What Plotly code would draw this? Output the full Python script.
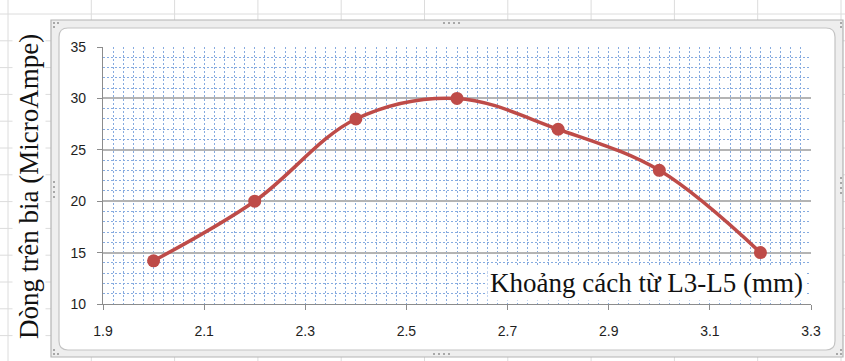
import plotly.graph_objects as go

# Measured current on the target vs. L3-L5 spacing
spacing_mm = [2.0, 2.2, 2.4, 2.6, 2.8, 3.0, 3.2]
current_uA = [14.2, 20.0, 28.0, 30.0, 27.0, 23.0, 15.0]

x_ticks = [1.9, 2.1, 2.3, 2.5, 2.7, 2.9, 3.1, 3.3]
y_ticks = [10, 15, 20, 25, 30, 35]

W, H = 845, 361
PL, PR, PT, PB = 103, 811, 47, 304  # plot area in pixels


def px(x):
    return (x - PL) / (PR - PL)


def py(y):
    return (PB - y) / (PB - PT)


fig = go.Figure()
fig.add_trace(go.Scatter(
    x=spacing_mm, y=current_uA,
    mode="lines+markers",
    line=dict(color="#BE4B48", width=3.5, shape="spline", smoothing=1.0),
    marker=dict(color="#BE4B48", size=13),
    showlegend=False, hoverinfo="x+y",
))

shapes = []
sheet_line = dict(color="#DCDCDC", width=1)
# worksheet cell grid behind the chart object
for k in range(14):
    yy = 14 + 26.8 * k
    shapes.append(dict(type="line", xref="paper", yref="paper", layer="below",
                       x0=px(0), x1=px(W), y0=py(yy), y1=py(yy), line=sheet_line))
for k in range(11):
    xx = 8 + 83.3 * k
    shapes.append(dict(type="line", xref="paper", yref="paper", layer="below",
                       x0=px(xx), x1=px(xx), y0=py(0), y1=py(H), line=sheet_line))

# chart object frame
shapes.append(dict(type="rect", xref="paper", yref="paper", layer="below",
                   x0=px(51), x1=px(843), y0=py(20), y1=py(357),
                   fillcolor="#EEEEEE", line=dict(color="#B4B4B4", width=1.2)))


def rounded(x0, y0, x1, y1, r):
    pts = [
        f"M {px(x0 + r)},{py(y0)}",
        f"L {px(x1 - r)},{py(y0)}",
        f"Q {px(x1)},{py(y0)} {px(x1)},{py(y0 + r)}",
        f"L {px(x1)},{py(y1 - r)}",
        f"Q {px(x1)},{py(y1)} {px(x1 - r)},{py(y1)}",
        f"L {px(x0 + r)},{py(y1)}",
        f"Q {px(x0)},{py(y1)} {px(x0)},{py(y1 - r)}",
        f"L {px(x0)},{py(y0 + r)}",
        f"Q {px(x0)},{py(y0)} {px(x0 + r)},{py(y0)}",
        "Z",
    ]
    return " ".join(pts)


shapes.append(dict(type="path", xref="paper", yref="paper", layer="below",
                   path=rounded(59, 28, 835, 350, 9),
                   fillcolor="white", line=dict(color="#C4C4C4", width=1.2)))

# resize handles on the frame
def handle_h(cx, cy):
    for i in range(4):
        x = cx + i * 5
        shapes.append(dict(type="rect", xref="paper", yref="paper", layer="below",
                           x0=px(x), x1=px(x + 2), y0=py(cy), y1=py(cy + 2),
                           fillcolor="#A8A8A8", line=dict(width=0)))


def handle_v(cx, cy):
    for i in range(4):
        y = cy + i * 5
        shapes.append(dict(type="rect", xref="paper", yref="paper", layer="below",
                           x0=px(cx), x1=px(cx + 2), y0=py(y), y1=py(y + 2),
                           fillcolor="#A8A8A8", line=dict(width=0)))


handle_h(443, 22)
handle_h(433, 353)
handle_v(53, 181)
handle_v(840, 177)
for (cx, cy) in [(53, 22), (57, 22), (53, 26), (57, 353), (53, 353), (53, 349),
                 (836, 353), (840, 353), (840, 349), (840, 22), (840, 26)]:
    shapes.append(dict(type="rect", xref="paper", yref="paper", layer="below",
                       x0=px(cx), x1=px(cx + 2), y0=py(cy), y1=py(cy + 2),
                       fillcolor="#A8A8A8", line=dict(width=0)))

grid_blue = "#86ABE0"
grid_dash = "2px,2px"
axis_gray = "#8C8C8C"
tick_font = dict(family="Liberation Sans, Arial, sans-serif", size=14, color="#1E1E1E")

fig.update_layout(
    width=W, height=H, autosize=False,
    margin=dict(l=PL, r=W - PR, t=PT, b=H - PB, pad=0),
    paper_bgcolor="white", plot_bgcolor="white",
    shapes=shapes,
    xaxis=dict(
        range=[1.9, 3.3], tickvals=x_ticks, ticktext=[f"{v:.1f}" for v in x_ticks],
        showgrid=True, gridcolor=grid_blue, griddash=grid_dash, gridwidth=1,
        minor=dict(dtick=0.02, tick0=1.9, showgrid=True, gridcolor=grid_blue,
                   griddash=grid_dash, gridwidth=1, ticks=""),
        showline=True, linecolor=axis_gray, linewidth=1.3,
        ticks="outside", ticklen=5, tickcolor=axis_gray, tickwidth=1.3,
        tickfont=tick_font, ticklabelstandoff=9, zeroline=False,
    ),
    yaxis=dict(
        range=[10, 35], tickvals=y_ticks,
        showgrid=True, gridcolor="#B4B4B4", gridwidth=1.6,
        minor=dict(dtick=1, tick0=10, showgrid=True, gridcolor=grid_blue,
                   griddash=grid_dash, gridwidth=1, ticks=""),
        showline=True, linecolor=axis_gray, linewidth=1.3,
        ticks="outside", ticklen=5, tickcolor=axis_gray, tickwidth=1.3,
        tickfont=tick_font, ticklabelstandoff=8, zeroline=False,
    ),
    annotations=[
        dict(text="Dòng trên bia (MicroAmpe)", xref="paper", yref="paper",
             x=px(29), y=py(187), xanchor="center", yanchor="middle",
             textangle=-90, showarrow=False, bgcolor="white",
             font=dict(family="Liberation Serif, Times New Roman, serif", size=27, color="#111111")),
        dict(text="Khoảng cách từ L3-L5 (mm)", xref="paper", yref="paper",
             x=px(806), y=py(283), xanchor="right", yanchor="middle",
             showarrow=False, bgcolor="white", borderpad=2,
             font=dict(family="Liberation Serif, Times New Roman, serif", size=27, color="#111111")),
    ],
)

fig.write_html("out.html")
